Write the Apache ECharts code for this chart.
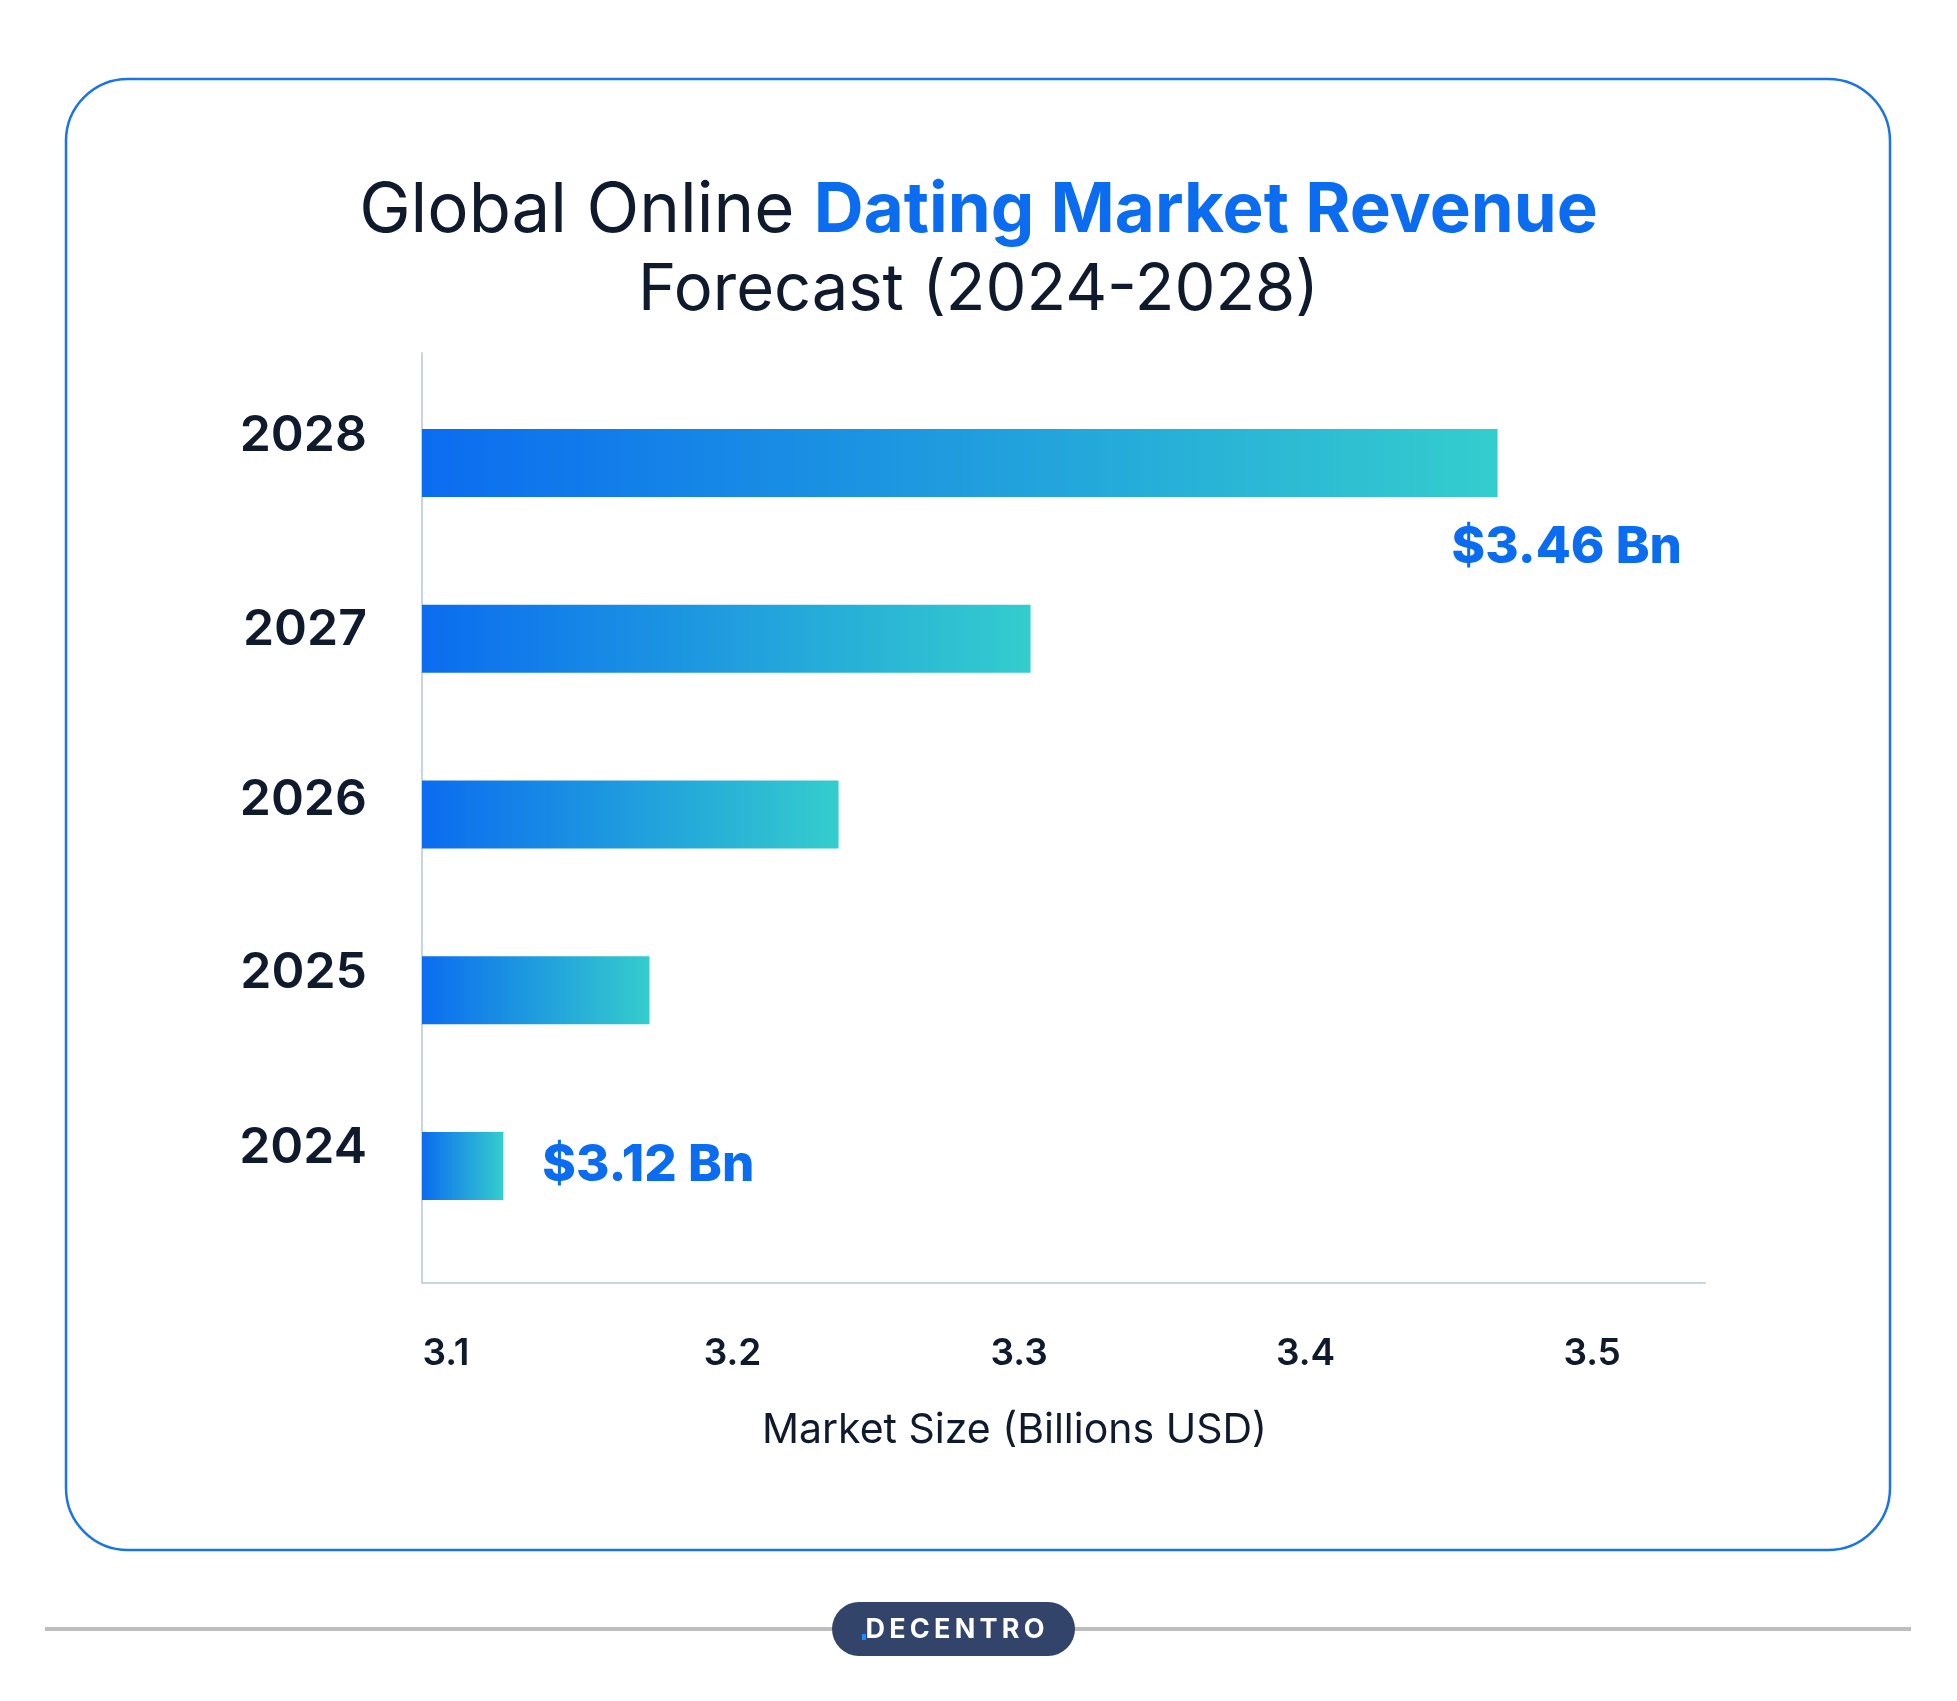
<!DOCTYPE html>
<html>
<head>
<meta charset="utf-8">
<script src="https://cdn.jsdelivr.net/npm/echarts@6/dist/echarts.min.js"></script>
<style>
  html, body { margin: 0; padding: 0; background: #ffffff; }
  #chart { width: 1957px; height: 1701px; }
</style>
</head>
<body>
<div id="chart"></div>
<script>
// ---- data ----
const years = ['2024', '2025', '2026', '2027', '2028'];
const marketSize = [3.12, 3.171, 3.237, 3.304, 3.467];
const valueLabels = ['$3.12 Bn', '', '', '', '$3.46 Bn'];
const tickValues = [3.1, 3.2, 3.3, 3.4, 3.5];
const titleLine1a = 'Global Online ';
const titleLine1b = 'Dating Market Revenue';
const titleLine2 = 'Forecast (2024-2028)';
const axisTitle = 'Market Size (Billions USD)';
const brand = 'DECENTRO';

// ---- styles ----
const FONT = 'Inter, "Noto Sans", sans-serif';
const DARK = '#0f1b2d';
const BLUE = '#0b6cf0';
const TEAL = '#34cdcd';
const yearShift = { '2028': 27, '2027': 9, '2026': 15, '2025': 17, '2024': 18 };

const chart = echarts.init(document.getElementById('chart'), null, { renderer: 'canvas' });

const rich = {};
years.forEach(y => {
  rich['y' + y] = {
    fontFamily: FONT, fontSize: 50, fontWeight: 600, color: DARK,
    padding: [0, 0, 2 * yearShift[y], 0]
  };
});

const barData = marketSize.map((v, i) => {
  const item = {
    value: v,
    itemStyle: {
      color: new echarts.graphic.LinearGradient(0, 0, 1, 0, [
        { offset: 0, color: BLUE },
        { offset: 1, color: TEAL }
      ])
    }
  };
  if (valueLabels[i]) {
    const isLast = i === marketSize.length - 1;
    item.label = {
      show: true,
      position: 'right',
      distance: isLast ? 0 : 39,
      offset: isLast ? [-46, 85] : [0, 0],
      formatter: valueLabels[i],
      fontFamily: FONT, fontSize: 51, fontWeight: 800, color: BLUE
    };
  }
  return item;
});

const option = {
  backgroundColor: '#ffffff',
  animation: false,
  title: {
    left: 'center',
    top: 167,
    text: '{a1|' + titleLine1a + '}{b|' + titleLine1b + '}\n{a|' + titleLine2 + '}',
    textStyle: {
      rich: {
        a1: { fontFamily: FONT, fontSize: 69, fontWeight: 400, color: DARK, lineHeight: 79 },
        a: { fontFamily: FONT, fontSize: 65, fontWeight: 400, color: DARK, lineHeight: 79 },
        b: { fontFamily: FONT, fontSize: 69, fontWeight: 700, color: BLUE, lineHeight: 79 }
      }
    }
  },
  grid: [
    { left: 422, top: 375, width: 1283, height: 879, containLabel: false },
    { left: 422, top: 353, width: 1283, height: 930, containLabel: false }
  ],
  xAxis: [
    {
      gridIndex: 0,
      type: 'value',
      min: 3.0916,
      max: 3.5394,
      axisLine: { show: false },
      axisTick: { show: false },
      splitLine: { show: false },
      axisLabel: {
        customValues: tickValues,
        formatter: v => v.toFixed(1),
        margin: 81,
        fontFamily: FONT, fontSize: 37, fontWeight: 600, color: DARK
      },
      name: axisTitle,
      nameLocation: 'middle',
      nameGap: 156,
      nameTextStyle: {
        fontFamily: FONT, fontSize: 41, fontWeight: 400, color: DARK,
        padding: [0, 98, 0, 0]
      }
    },
    {
      gridIndex: 1,
      type: 'value', min: 0, max: 1,
      axisLine: { show: true, lineStyle: { color: '#c6d4e4', width: 2 } },
      axisTick: { show: false }, axisLabel: { show: false }, splitLine: { show: false }
    }
  ],
  yAxis: [
    {
      gridIndex: 0,
      type: 'category',
      data: years,
      axisLine: { show: false },
      axisTick: { show: false },
      splitLine: { show: false },
      axisLabel: {
        margin: 55,
        formatter: v => '{y' + v + '|' + v + '}',
        rich: rich
      }
    },
    {
      gridIndex: 1,
      type: 'value', min: 0, max: 1,
      axisLine: { show: true, lineStyle: { color: '#c6d4e4', width: 2 } },
      axisTick: { show: false }, axisLabel: { show: false }, splitLine: { show: false }
    }
  ],
  series: [
    {
      type: 'bar',
      xAxisIndex: 0,
      yAxisIndex: 0,
      barWidth: 68,
      data: barData,
      label: { show: false }
    }
  ],
  graphic: [
    {
      type: 'rect', z: -10, silent: true,
      shape: { x: 66, y: 79, width: 1824, height: 1471, r: 62 },
      style: { fill: '#ffffff', stroke: '#1a73e8', lineWidth: 2.5 }
    },
    {
      type: 'line', silent: true,
      shape: { x1: 45, y1: 1629, x2: 1911, y2: 1629 },
      style: { stroke: '#bdbdbd', lineWidth: 4 }
    },
    {
      type: 'rect', silent: true,
      shape: { x: 832, y: 1602, width: 243, height: 54, r: 27 },
      style: { fill: '#33446b' }
    },
    {
      type: 'text', silent: true,
      x: 955, y: 1630,
      style: {
        text: brand.split('').join('\u2009'), fill: '#ffffff', align: 'center', verticalAlign: 'middle',
        font: '700 27px ' + FONT
      }
    },
    {
      type: 'rect', silent: true,
      shape: { x: 862, y: 1634, width: 4, height: 6 },
      style: { fill: '#1a8cff' }
    }
  ]
};

chart.setOption(option);
</script>
</body>
</html>
